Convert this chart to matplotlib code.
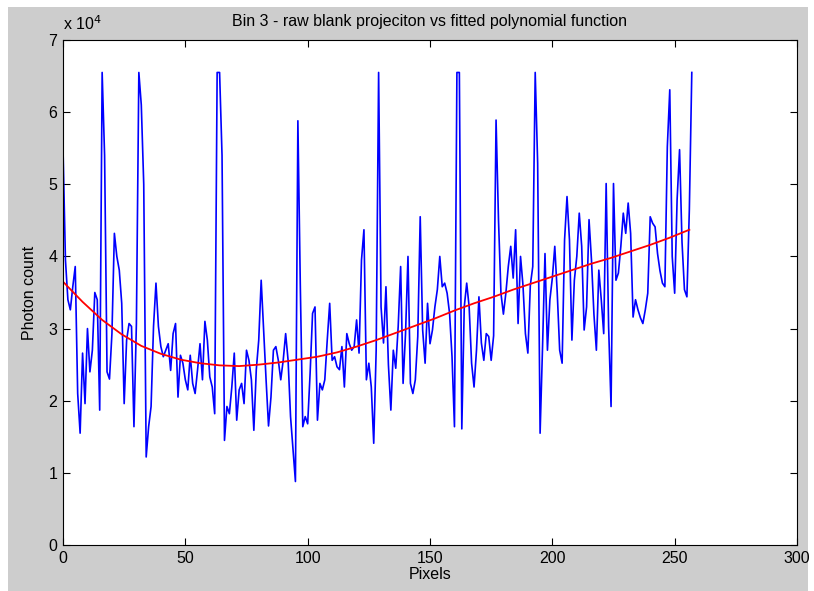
import matplotlib
matplotlib.use("Agg")
import matplotlib.pyplot as plt
from matplotlib.patches import Rectangle
from matplotlib.ticker import FuncFormatter

# raw blank projection, bin 3 (photon counts in units of 1e4)
raw_counts_e4 = [
    5.50, 3.95, 3.40, 3.26, 3.58, 3.86, 2.10, 1.55, 2.66, 1.96,
    3.00, 2.40, 2.70, 3.50, 3.40, 1.87, 6.55, 5.40, 2.40, 2.30,
    2.93, 4.32, 4.00, 3.81, 3.35, 1.96, 2.84, 3.07, 3.03, 1.64,
    3.07, 6.55, 6.10, 5.00, 1.22, 1.64, 1.92, 3.03, 3.63, 3.03,
    2.75, 2.61, 2.70, 2.79, 2.42, 2.93, 3.07, 2.05, 2.63, 2.52,
    2.29, 2.15, 2.63, 2.24, 2.10, 2.43, 2.79, 2.29, 3.10, 2.84,
    2.33, 2.19, 1.82, 6.55, 6.55, 5.40, 1.45, 1.92, 1.82, 2.19,
    2.66, 1.73, 2.15, 2.24, 1.96, 2.70, 2.56, 2.29, 1.59, 2.43,
    2.84, 3.67, 2.98, 2.29, 1.65, 2.05, 2.70, 2.75, 2.56, 2.29,
    2.56, 2.93, 2.56, 1.78, 1.32, 0.88, 5.88, 3.58, 1.64, 1.78,
    1.68, 2.38, 3.21, 3.30, 1.73, 2.24, 2.15, 2.29, 2.84, 3.35,
    2.56, 2.61, 2.47, 2.43, 2.75, 2.19, 2.93, 2.79, 2.70, 2.75,
    3.12, 2.66, 3.95, 4.37, 2.29, 2.52, 2.19, 1.41, 2.70, 6.55,
    3.30, 2.80, 3.58, 2.50, 1.87, 2.70, 2.45, 3.03, 3.86, 2.24,
    2.93, 4.00, 2.24, 2.10, 2.29, 2.89, 4.55, 2.98, 2.52, 3.35,
    2.79, 2.98, 3.30, 3.54, 4.00, 3.58, 3.63, 3.49, 3.21, 2.61,
    1.64, 6.55, 6.55, 1.61, 3.30, 3.63, 3.30, 2.52, 2.19, 2.70,
    3.44, 2.80, 2.56, 2.93, 2.89, 2.56, 2.90, 5.89, 4.50, 3.49,
    3.20, 3.49, 3.86, 4.14, 3.70, 4.37, 3.07, 4.00, 3.60, 2.93,
    2.66, 3.60, 3.86, 6.55, 5.29, 1.55, 2.75, 4.04, 2.70, 3.40,
    3.70, 4.14, 3.50, 2.70, 2.52, 4.23, 4.83, 4.23, 2.84, 3.67,
    4.00, 4.60, 4.14, 2.98, 3.30, 4.51, 3.95, 3.20, 2.70, 3.81,
    3.40, 2.93, 5.01, 3.03, 1.92, 5.01, 3.67, 3.77, 4.14, 4.60,
    4.32, 4.74, 4.32, 3.16, 3.40, 3.26, 3.15, 3.07, 3.26, 3.49,
    4.55, 4.46, 4.41, 4.04, 3.80, 3.63, 3.58, 5.52, 6.31, 4.00,
    3.49, 4.79, 5.48, 4.20, 3.54, 3.44, 4.65, 6.55,
]
raw_pixels = list(range(len(raw_counts_e4)))

# fitted polynomial, sampled every 8 pixels
fit_pixels = list(range(0, 257, 8))
fit_counts_e4 = [3.65, 3.37, 3.12, 2.92, 2.76, 2.65, 2.57, 2.52, 2.49, 2.48,
                 2.50, 2.53, 2.57, 2.61, 2.67, 2.75, 2.84, 2.94, 3.04, 3.14,
                 3.25, 3.35, 3.44, 3.54, 3.63, 3.72, 3.81, 3.90, 3.98, 4.07,
                 4.16, 4.26, 4.37]

x_ticks = [0, 50, 100, 150, 200, 250, 300]
y_ticks = [0, 1e4, 2e4, 3e4, 4e4, 5e4, 6e4, 7e4]

plt.rcParams['font.family'] = ['Liberation Sans', 'DejaVu Sans']

fig = plt.figure(figsize=(8.14, 5.91), dpi=100, facecolor='white')
# grey window background behind the axes
fig.add_artist(Rectangle((8 / 814, 0), 800 / 814, 584 / 591,
                         transform=fig.transFigure, facecolor='#cdcdcd',
                         edgecolor='none', zorder=-10))

ax = fig.add_axes([63 / 814, 46 / 591, 734 / 814, 505 / 591])
ax.set_facecolor('white')

ax.plot(raw_pixels, [v * 1e4 for v in raw_counts_e4], color='#0000ff', linewidth=1.2)
ax.plot(fit_pixels, [v * 1e4 for v in fit_counts_e4], color='#ff0000', linewidth=1.3)

ax.set_xlim(0, 300)
ax.set_ylim(0, 7e4)
ax.set_xticks(x_ticks)
ax.set_yticks(y_ticks)
ax.yaxis.set_major_formatter(FuncFormatter(lambda v, p: f"{v / 1e4:g}"))
ax.tick_params(direction='in', length=5, width=0.8, top=True, right=True,
               labelsize=11.5, colors='black', pad=4)
for s in ax.spines.values():
    s.set_linewidth(0.8)

ax.text(0.0, 1.014, r"x 10$^4$", transform=ax.transAxes, fontsize=11.5, va='bottom', ha='left')
ax.set_title("Bin 3 - raw blank projeciton vs fitted polynomial function", fontsize=11.5, pad=10)
ax.set_xlabel("Pixels", fontsize=11.5, labelpad=1)
ax.set_ylabel("Photon count", fontsize=11.5, labelpad=8)

fig.savefig("out.png", dpi=100, facecolor=fig.get_facecolor())
